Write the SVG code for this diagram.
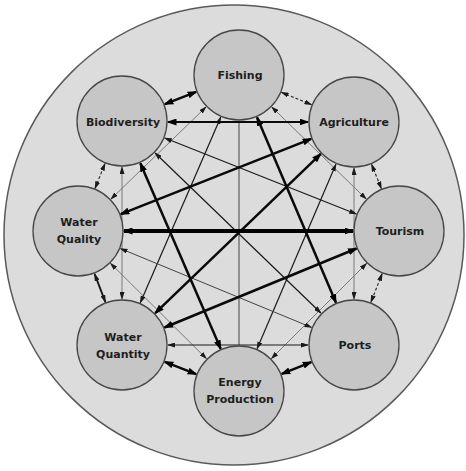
<svg xmlns="http://www.w3.org/2000/svg" width="466" height="471" viewBox="0 0 466 471">
<style>
.bg{fill:#dcdcdc;stroke:#5a5a5a;stroke-width:1.5}
.nd{fill:#c6c6c6;stroke:#474747;stroke-width:1.3}
.lb{font-family:"DejaVu Sans","Liberation Sans",sans-serif;font-weight:bold;font-size:11px;fill:#1e1e1e;text-anchor:middle;dominant-baseline:central}
.c{fill:none}
.vt{stroke:#000;stroke-width:4;marker-start:url(#ab);marker-end:url(#ab)}
.tk{stroke:#0a0a0a;stroke-width:2.5;marker-start:url(#ab);marker-end:url(#ab)}
.md{stroke:#111;stroke-width:1.8;marker-start:url(#as);marker-end:url(#as)}
.tn{stroke:#1a1a1a;stroke-width:1.2;marker-start:url(#as);marker-end:url(#as)}
.gr{stroke:#7a7a7a;stroke-width:1;marker-start:url(#as);marker-end:url(#as)}
.ds{stroke:#333;stroke-width:1.2;stroke-dasharray:3 2;marker-start:url(#as);marker-end:url(#as)}
.pl{stroke:#777;stroke-width:1.5}
</style>
<defs>
<marker id="ab" viewBox="0 0 10 7" refX="8.5" refY="3.5" markerWidth="10" markerHeight="7" markerUnits="userSpaceOnUse" orient="auto-start-reverse"><path d="M0,0 L10,3.5 L0,7 z" fill="#000"/></marker>
<marker id="as" viewBox="0 0 8 5" refX="7" refY="2.5" markerWidth="8" markerHeight="5" markerUnits="userSpaceOnUse" orient="auto-start-reverse"><path d="M0,0 L8,2.5 L0,5 z" fill="#1a1a1a"/></marker>
</defs>
<rect width="466" height="471" fill="#fff"/>
<circle class="bg" cx="234" cy="235" r="230"/>
<g id="connectors" class="c">
<line class="pl" x1="239" y1="121" x2="239" y2="345"/>
<line class="gr" x1="271.9" y1="107.1" x2="366.1" y2="198.9"/>
<line class="gr" x1="366.5" y1="263.5" x2="271.5" y2="358.5"/>
<line class="gr" x1="206.4" y1="358.6" x2="110.6" y2="263.4"/>
<line class="gr" x1="111" y1="199" x2="206" y2="107"/>
<line class="gr" x1="122" y1="299" x2="122" y2="167"/>
<line class="gr" x1="354" y1="168" x2="354" y2="299"/>
<line class="tn" x1="220.7" y1="117.2" x2="140.3" y2="302.8"/>
<line class="tn" x1="164.8" y1="138" x2="356.2" y2="214"/>
<line class="tn" x1="335.9" y1="164.3" x2="257.1" y2="348.7"/>
<line class="tn" x1="155.1" y1="153" x2="320.9" y2="313"/>
<line class="tn" x1="308" y1="345" x2="168" y2="345"/>
<line class="tn" x1="120.5" y1="248.6" x2="311.5" y2="327.4" style="stroke:#444;stroke-width:1"/>
<line class="ds" x1="281.6" y1="92.4" x2="311.4" y2="104.6"/>
<line class="ds" x1="371.6" y1="164.5" x2="381.4" y2="188.5"/>
<line class="ds" x1="382.1" y1="273.8" x2="370.9" y2="302.2"/>
<line class="ds" x1="95.1" y1="188.3" x2="104.9" y2="163.7"/>
<line class="md" x1="105.4" y1="302.1" x2="94.6" y2="273.9"/>
<line class="tk" x1="196.2" y1="91.8" x2="164.8" y2="104.2"/>
<line class="tk" x1="311.3" y1="362.1" x2="281.7" y2="373.9"/>
<line class="tk" x1="196.2" y1="374.2" x2="164.8" y2="361.8"/>
<line class="tk" x1="257" y1="117.3" x2="336" y2="302.7"/>
<line class="tk" x1="140.3" y1="163.2" x2="220.7" y2="348.8"/>
<line class="tk" x1="311.2" y1="138.9" x2="120.8" y2="214.1"/>
<line class="tk" x1="320.8" y1="153.9" x2="155.2" y2="313.1"/>
<line class="tk" x1="356.5" y1="248.5" x2="164.5" y2="327.5"/>
<line class="tk" x1="168" y1="122" x2="308" y2="122" style="stroke-width:2"/>
<line class="vt" x1="124" y1="231" x2="353" y2="231"/>
</g>
<g id="fishing"><circle class="nd" cx="239" cy="75" r="45"/><text class="lb" x="240" y="75">Fishing</text></g>
<g id="biodiversity"><circle class="nd" cx="122" cy="121" r="45"/><text class="lb" x="123" y="122">Biodiversity</text></g>
<g id="agriculture"><circle class="nd" cx="354" cy="122" r="45"/><text class="lb" x="354" y="122">Agriculture</text></g>
<g id="water-quality"><circle class="nd" cx="78" cy="231" r="45"/><text class="lb" x="79" y="222">Water</text><text class="lb" x="79" y="239">Quality</text></g>
<g id="tourism"><circle class="nd" cx="399" cy="231" r="45"/><text class="lb" x="400" y="231">Tourism</text></g>
<g id="water-quantity"><circle class="nd" cx="122" cy="345" r="45"/><text class="lb" x="123" y="337">Water</text><text class="lb" x="123" y="354">Quantity</text></g>
<g id="ports"><circle class="nd" cx="354" cy="345" r="45"/><text class="lb" x="355" y="345">Ports</text></g>
<g id="energy-production"><circle class="nd" cx="239" cy="391" r="45"/><text class="lb" x="240" y="382">Energy</text><text class="lb" x="240" y="399">Production</text></g>
</svg>
